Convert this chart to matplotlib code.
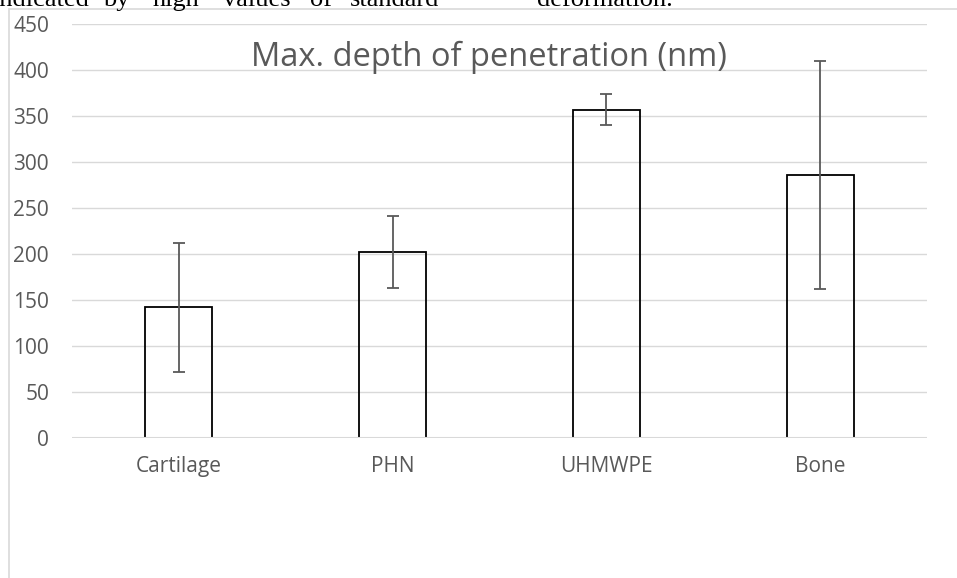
import matplotlib
matplotlib.use('Agg')
import matplotlib.pyplot as plt
from matplotlib.patches import Rectangle

# 数据
categories = ['Cartilage', 'PHN', 'UHMWPE', 'Bone']
depth = [142, 202, 357, 286]
depth_sd = [70, 39, 17, 124]
yticks = [0, 50, 100, 150, 200, 250, 300, 350, 400, 450]
title = 'Max. depth of penetration (nm)'

# 页面上方被截断的正文
head_words = ['indicated', 'by', 'high', 'values', 'of', 'standard', 'deformation.']
head_x = [-8, 103, 153, 223, 310, 350, 537]

W, H = 957, 578
grey = '#595959'
grid_c = '#d9d9d9'

plt.rcParams['font.family'] = ['Open Sans', 'DejaVu Sans']

fig = plt.figure(figsize=(W / 100, H / 100), dpi=100)
fig.patch.set_facecolor('white')

# 图表外框
fig.patches.append(Rectangle((9 / W, -0.1), 1.1, 1.1 - 9 / H,
                             transform=fig.transFigure, fill=False,
                             edgecolor=grid_c, lw=1.2))

ax = fig.add_axes([72 / W, 1 - 438 / H, (927 - 72) / W, (438 - 24) / H])
x = list(range(len(categories)))
ax.bar(x, depth, width=0.314, fill=False, edgecolor='black', lw=1.3, zorder=3)
ax.errorbar(x, depth, yerr=depth_sd, fmt='none', ecolor=grey, elinewidth=1.3,
            capsize=4.3, capthick=1.3, zorder=4)
ax.axhline(0, color=grid_c, lw=1.5, zorder=5)

ax.set_xlim(-0.5, len(categories) - 0.5)
ax.set_ylim(0, 450)
ax.set_yticks(yticks)
ax.set_xticks(x)
ax.set_xticklabels(categories)
ax.grid(axis='y', color=grid_c, lw=1.0, zorder=0)
ax.set_axisbelow(True)
for s in ax.spines.values():
    s.set_visible(False)
ax.tick_params(axis='y', length=0, pad=16.5, labelsize=15, labelcolor=grey)
ax.tick_params(axis='x', length=0, pad=13, labelsize=15, labelcolor=grey)

fig.text(489 / W, 1 - 57 / H, title, ha='center', va='center',
         fontsize=23.5, color=grey)

for w, hx in zip(head_words, head_x):
    fig.text(hx / W, 1 - 6 / H, w, ha='left', va='baseline', fontsize=19,
             family=['Liberation Serif'], color='black')

fig.savefig('out.png', dpi=100)
